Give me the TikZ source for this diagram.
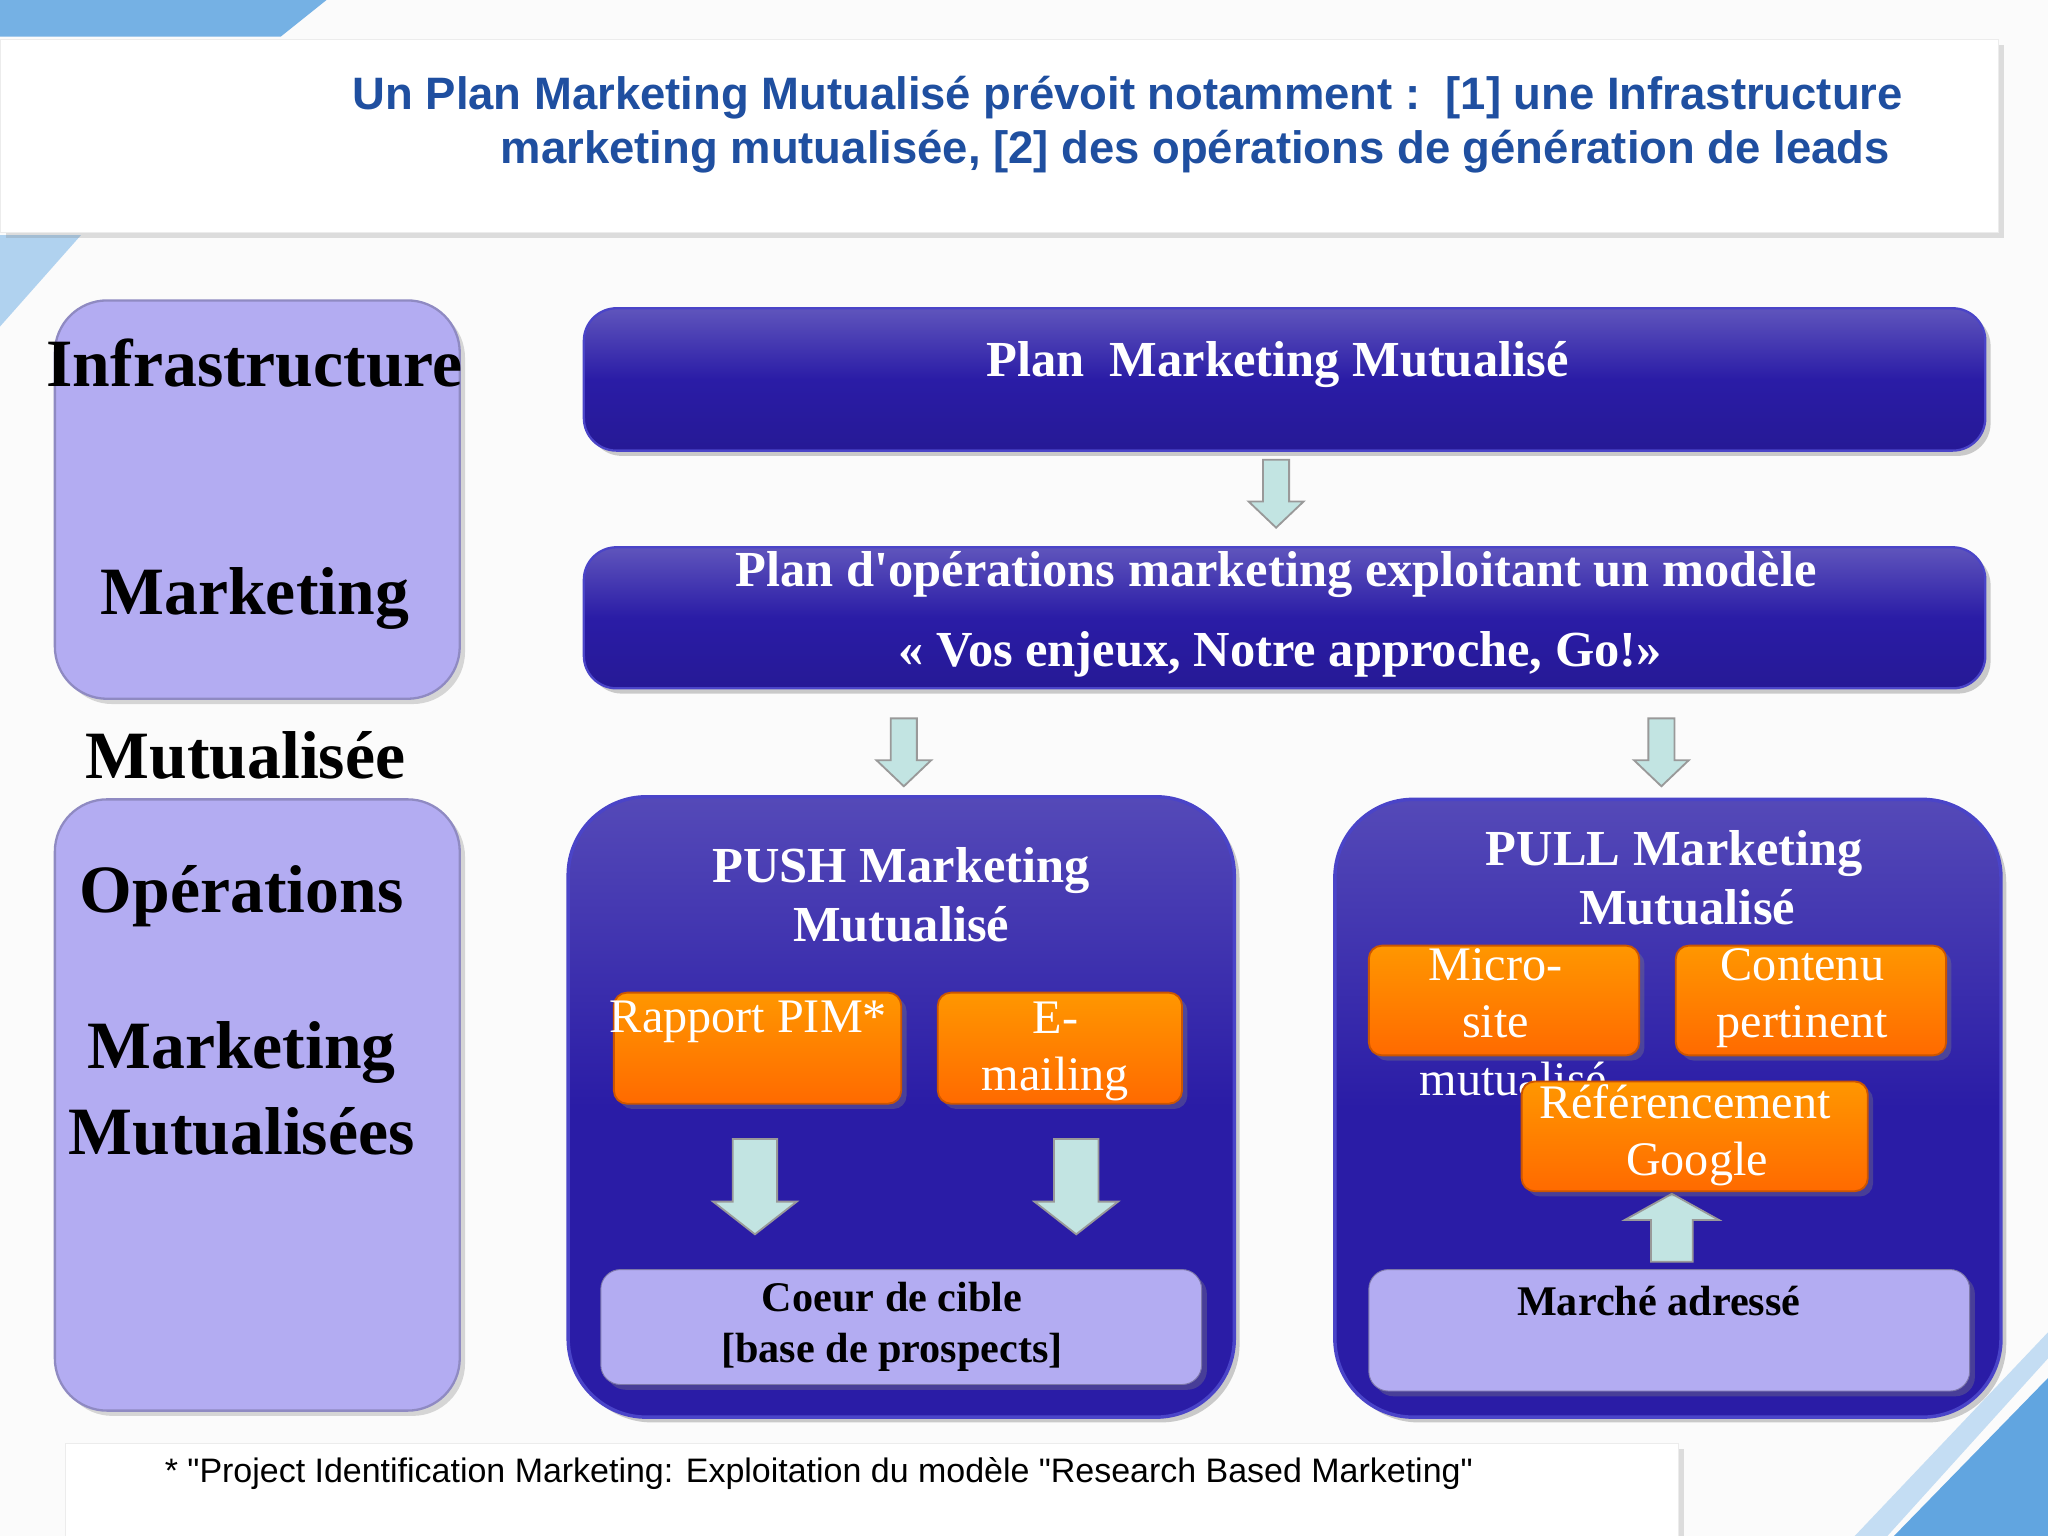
\documentclass[tikz,border=0pt]{standalone}
\usepackage{fontspec}
\setmainfont{Liberation Serif}
\newfontfamily\sansf{Liberation Sans}
\usetikzlibrary{shadows}
\definecolor{titleblue}{HTML}{1F4FA0}
\definecolor{lav}{HTML}{B3ACF2}
\definecolor{dblue}{HTML}{2A1CA6}
\definecolor{dblueb}{HTML}{4A44C8}
\definecolor{orng}{HTML}{FF6A00}
\definecolor{arrc}{HTML}{C2E4E2}
\definecolor{corner}{HTML}{3A8FD8}
\tikzset{
 lavbox/.style={fill=lav, draw=lav!80!black, line width=1pt, rounded corners=0.8cm, drop shadow={opacity=0.3}},
 bluebox/.style={top color=dblue!80!white, bottom color=dblue, middle color=dblue, draw=dblueb, line width=1.5pt, rounded corners=1.2cm, drop shadow={opacity=0.4}},
 banner/.style={top color=dblue!75!white, bottom color=dblue!90!black, middle color=dblue, draw=dblueb, line width=1pt, rounded corners=0.5cm, drop shadow={opacity=0.4}},
 obox/.style={top color=orng!70!yellow, bottom color=orng, draw=orng!80!black, line width=0.8pt, rounded corners=0.2cm, drop shadow={opacity=0.35}},
 botbox/.style={fill=lav, draw=lav!70!black, rounded corners=0.3cm, drop shadow={opacity=0.35}},
 blockarr/.style={fill=arrc, draw=gray!80, line width=0.8pt, line join=miter},
 lbl/.style={font=\bfseries\fontsize{29.5}{34}\selectfont, align=center},
 wt/.style={text=white, font=\bfseries\fontsize{22}{26}\selectfont, align=center},
 ot/.style={text=white, font=\fontsize{21}{25}\selectfont, align=center},
}
% #1 x, #2 tail y, #3 tip y, #4 half shaft, #5 half head, #6 head length (sign with direction)
\newcommand{\blkarrow}[6]{%
 \draw[blockarr] (#1-#4,#2) -- (#1+#4,#2) -- (#1+#4,#3-#6) -- (#1+#5,#3-#6) -- (#1,#3) -- (#1-#5,#3-#6) -- (#1-#4,#3-#6) -- cycle;}
\begin{document}
\begin{tikzpicture}[x=0.02cm,y=-0.02cm]
\useasboundingbox (0,0) rectangle (1568,1176);
\fill[gray!3] (0,0) rectangle (1568,1176);
% corners
\fill[corner!70] (0,0) -- (250,0) -- (215,28) -- (0,28) -- cycle;
\fill[corner!40] (0,180) -- (62,180) -- (0,250) -- cycle;
\fill[corner!80] (1450,1176) -- (1568,1055) -- (1568,1176) -- cycle;
\fill[corner!30] (1420,1176) -- (1568,1020) -- (1568,1040) -- (1445,1176) -- cycle;
% title
\node[fill=white, draw=gray!15, minimum width=30.6cm, minimum height=2.96cm, anchor=north west, drop shadow={opacity=0.25}] (titlebox) at (0,30) {};
\node[anchor=east, text=titleblue, font=\sansf\bfseries\fontsize{19.8}{22}\selectfont] (t1) at (1463,75) {Un Plan Marketing Mutualisé prévoit notamment :\ \ [1] une Infrastructure};
\node[anchor=east, text=titleblue, font=\sansf\bfseries\fontsize{19.8}{22}\selectfont] (t2) at (1453,116) {marketing mutualisée, [2] des opérations de génération de leads};
% left boxes
\draw[lavbox] (42,230) rectangle (352,535);
\draw[lavbox] (42,612) rectangle (352,1080);
\node[lbl] (l1) at (195,278) {Infrastructure};
\node[lbl] (l2) at (195,458) {Marketing};
\node[lbl] (l3) at (188,578) {Mutualisée};
\node[lbl] (l4) at (185,686) {Opérations};
\node[lbl] (l5) at (185,806) {Marketing};
\node[lbl] (l6) at (185,866) {Mutualisées};
% banners
\draw[banner] (447,236) rectangle (1520,345);
\node[wt] (b1) at (978,279) {Plan\ \ Marketing Mutualisé};
\draw[banner] (447,419) rectangle (1520,527);
\node[wt] (b2a) at (977,440) {Plan d\textquotesingle opérations marketing exploitant un modèle};
\node[wt] (b2b) at (980,501) {« Vos enjeux, Notre approche, Go!»};
% arrows
\blkarrow{977}{352}{404}{10}{21}{20}
\blkarrow{692}{550}{602}{10}{21}{20}
\blkarrow{1272}{550}{602}{10}{21}{20}
% push box
\draw[bluebox] (435,610) rectangle (945,1085);
\node[wt] (p1) at (690,685) {PUSH Marketing\\Mutualisé};
\draw[obox] (470,760) rectangle (690,845);
\node[ot] (o1) at (573,782) {Rapport PIM*};
\draw[obox] (718,760) rectangle (905,845);
\node[ot] (o2) at (808,805) {E-\\mailing};
\blkarrow{578}{872}{945}{17}{32}{25}
\blkarrow{824}{872}{945}{17}{32}{25}
\draw[botbox] (460,972) rectangle (920,1060);
\node[font=\bfseries\fontsize{18.4}{22}\selectfont, align=center] (c1) at (683,1016) {Coeur de cible\\{}[base de prospects]};
% pull box
\draw[bluebox] (1022,612) rectangle (1532,1085);
\node[wt] (q1) at (1282,672) {PULL Marketing\\\ \ Mutualisé};
\draw[botbox] (1048,972) rectangle (1508,1065);
\node[font=\bfseries\fontsize{18.4}{22}\selectfont] (c2) at (1270,996) {Marché adressé};
\blkarrow{1280}{966}{914}{16}{36}{-20}
\draw[obox] (1048,724) rectangle (1255,808);
\node[ot, anchor=north] (o3) at (1145,720) {Micro-\\site\\\ \ \ mutualisé};
\draw[obox] (1283,724) rectangle (1490,808);
\node[ot] (o4) at (1380,764) {Contenu\\pertinent};
\draw[obox] (1165,828) rectangle (1430,912);
\node[ot] (o5) at (1290,869) {Référencement\\\ \ Google};
% footer
\node[fill=white, draw=gray!15, minimum width=24.7cm, minimum height=1.5cm, anchor=north west, drop shadow={opacity=0.25}] (foot) at (50,1105) {};
\node[anchor=west, font=\sansf\fontsize{14.8}{17}\selectfont] (ft) at (120,1128) {* "Project Identification Marketing: Exploitation du modèle "Research Based Marketing"};
\end{tikzpicture}
\end{document}
